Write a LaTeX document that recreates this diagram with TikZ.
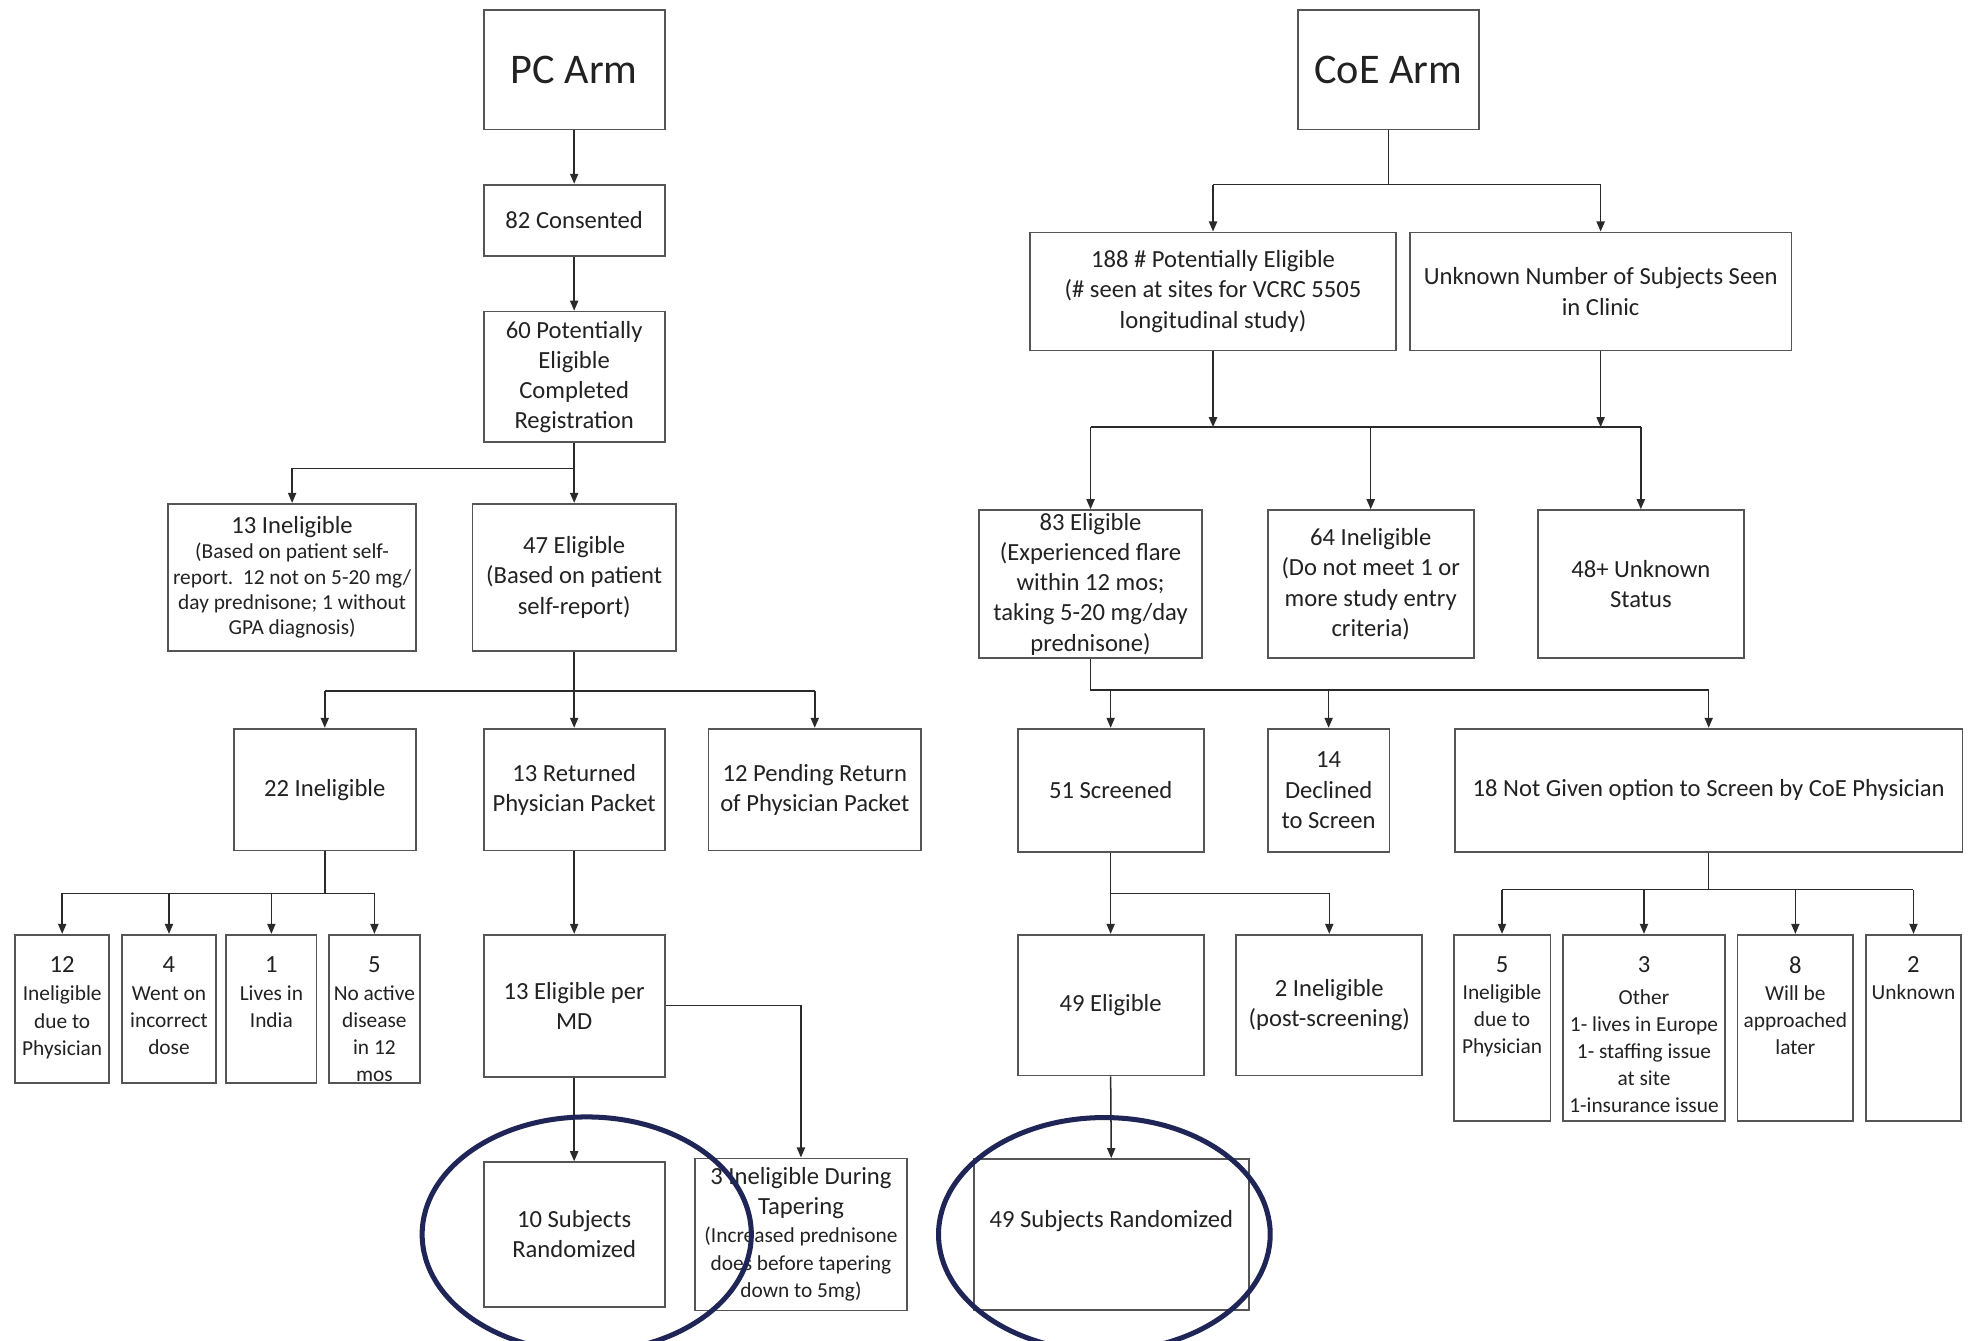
\documentclass[tikz,border=0pt]{standalone}
\usepackage{fontspec}
\setmainfont{Carlito}
\usetikzlibrary{arrows.meta,shapes.geometric}

\definecolor{boxline}{HTML}{555555}
\definecolor{wire}{HTML}{2A2A2A}
\definecolor{ink}{HTML}{222222}
\definecolor{ringblue}{HTML}{1F2556}

\newcommand\fmain{\fontsize{19.6}{24}\selectfont}
\newcommand\fsmall{\fontsize{17}{21.5}\selectfont}
\newcommand\farm{\fontsize{33.6}{40}\selectfont}

\tikzset{
  box/.style={draw=boxline, line width=1.4pt, fill=white, align=center,
    inner sep=2pt, text=ink, font=\fmain},
  note/.style={align=center, inner sep=0pt, text=ink, font=\fsmall},
  ln/.style={draw=wire, line width=1.2pt},
  arr/.style={ln, -{Triangle[length=8pt,width=6.5pt]}},
  ring/.style={draw=ringblue, line width=4pt, ellipse, inner sep=0pt}
}

\begin{document}
\begin{tikzpicture}[x=1pt,y=-1pt]
\useasboundingbox (0,0) rectangle (1568,1067);

% ---------- PC arm ----------
\node[box, minimum width=144pt, minimum height=95pt, font=\farm] (pcarm) at (457,55.5) {PC Arm};
\node[box, minimum width=144pt, minimum height=57pt] (cons) at (457,175.5) {82 Consented};
\node[box, minimum width=144pt, minimum height=104pt] (potel) at (457,300) {60 Potentially\\Eligible\\Completed\\Registration};

\node[box, minimum width=197pt, minimum height=117pt] (inel13) at (232.5,459.5)
  {13 Ineligible\\[-4pt]{\fsmall (Based on patient self-}\\[-4pt]{\fsmall report.\ \ 12 not on 5-20 mg/}\\[-4pt]{\fsmall day prednisone; 1 without}\\[-4pt]{\fsmall GPA diagnosis)}};
\node[box, minimum width=162pt, minimum height=117pt] (el47) at (457,459.5) {47 Eligible\\(Based on patient\\self-report)};

\node[box, minimum width=145pt, minimum height=97pt] (inel22) at (258.5,628.5) {22 Ineligible};
\node[box, minimum width=144pt, minimum height=97pt] (ret13) at (457,628.5) {13 Returned\\Physician Packet};
\node[box, minimum width=169pt, minimum height=97pt] (pend12) at (648.5,628.5) {12 Pending Return\\of Physician Packet};

\node[box, minimum width=75pt, minimum height=118pt] (s12) at (49.5,803) {};
\node[box, minimum width=75pt, minimum height=118pt] (s4) at (134.5,803) {};
\node[box, minimum width=72pt, minimum height=118pt] (s1) at (216,803) {};
\node[box, minimum width=72pt, minimum height=118pt] (s5) at (298,803) {};
\node[note, anchor=north] (s12t) at ([yshift=-18pt]s12.north) {{\fmain 12}\\[1pt]Ineligible\\due to\\Physician};
\node[note, anchor=north] (s4t) at ([yshift=-18pt]s4.north) {{\fmain 4}\\[1pt]Went on\\incorrect\\dose};
\node[note, anchor=north] (s1t) at ([yshift=-18pt]s1.north) {{\fmain 1}\\[1pt]Lives in\\India};
\node[note, anchor=north] (s5t) at ([yshift=-18pt]s5.north) {{\fmain 5}\\[1pt]No active\\disease\\in 12\\mos};

\node[box, minimum width=144pt, minimum height=113pt] (elmd) at (457,800.5) {13 Eligible per\\MD};
\node[box, minimum width=144pt, minimum height=115pt] (rand10) at (457,982.5) {10 Subjects\\Randomized};
\node[box, minimum width=169pt, minimum height=121pt] (taper3) at (637.5,982.5)
  {3 Ineligible During\\Tapering\\[-2pt]{\fsmall (Increased prednisone}\\[-2pt]{\fsmall does before tapering}\\[-2pt]{\fsmall down to 5mg)}};

% ---------- CoE arm ----------
\node[box, minimum width=144pt, minimum height=95pt, font=\farm] (coearm) at (1105,55.5) {CoE Arm};
\node[box, minimum width=291pt, minimum height=94pt] (pot188) at (965.5,232) {188 \# Potentially Eligible\\(\# seen at sites for VCRC 5505\\longitudinal study)};
\node[box, minimum width=304pt, minimum height=94pt] (unk) at (1274,232) {Unknown Number of Subjects Seen\\in Clinic};

\node[box, minimum width=178pt, minimum height=118pt] (el83) at (868,465) {83 Eligible\\(Experienced flare\\within 12 mos;\\taking 5-20 mg/day\\prednisone)};
\node[box, minimum width=164pt, minimum height=118pt] (inel64) at (1091,465) {64 Ineligible\\(Do not meet 1 or\\more study entry\\criteria)};
\node[box, minimum width=164pt, minimum height=118pt] (unk48) at (1306,465) {48+ Unknown\\Status};

\node[box, minimum width=148pt, minimum height=98pt] (scr51) at (884,629) {51 Screened};
\node[box, minimum width=97pt, minimum height=98pt] (dec14) at (1057.5,629) {14\\Declined\\to Screen};
\node[box, minimum width=404pt, minimum height=98pt] (notg18) at (1360,629) {18 Not Given option to Screen by CoE Physician};

\node[box, minimum width=148pt, minimum height=112pt] (el49) at (884,800) {49 Eligible};
\node[box, minimum width=148pt, minimum height=112pt] (inel2) at (1058,800) {2 Ineligible\\(post-screening)};

\node[box, minimum width=77pt, minimum height=148pt] (s5c) at (1195.5,818) {};
\node[box, minimum width=129pt, minimum height=148pt] (s3c) at (1308.5,818) {};
\node[box, minimum width=92pt, minimum height=148pt] (s8c) at (1429,818) {};
\node[box, minimum width=76pt, minimum height=148pt] (s2c) at (1523,818) {};
\node[note, anchor=north] (s5ct) at ([yshift=-18pt]s5c.north) {{\fmain 5}\\[0pt]Ineligible\\due to\\Physician};
\node[note, anchor=north] (s3ct) at ([yshift=-18pt]s3c.north) {{\fmain 3}\\[4pt]Other\\1- lives in Europe\\1- staffing issue\\at site\\1-insurance issue};
\node[note, anchor=north] (s8ct) at ([yshift=-18pt]s8c.north) {{\fmain 8}\\[0pt]Will be\\approached\\later};
\node[note, anchor=north] (s2ct) at ([yshift=-18pt]s2c.north) {{\fmain 2}\\[0pt]Unknown};

\node[box, minimum width=219pt, minimum height=120pt] (rand49) at (884.5,982.5) {49 Subjects Randomized\\\mbox{}};

% ---------- PC arm connectors ----------
% each branch: one stem, one horizontal bar, then a drop into every child
\draw[arr] (pcarm.south) -- (cons.north);
\draw[arr] (cons.south) -- (potel.north);
\coordinate (j1) at (457,373);
\draw[arr] (potel.south) -- (el47.north);
\draw[arr] (j1) -| (inel13.north);

\coordinate (j2) at (457,550);
\draw[arr] (el47.south) -- (ret13.north);
\draw[ln] (j2 -| inel22.north) -- (j2 -| pend12.north);
\draw[arr] (j2 -| inel22.north) -- (inel22.north);
\draw[arr] (j2 -| pend12.north) -- (pend12.north);

\coordinate (j3) at (258.5,711);
\draw[ln] (inel22.south) -- (j3);
\draw[ln] (j3 -| s12.north) -- (j3 -| s5.north);
\draw[arr] (j3 -| s12.north) -- (s12.north);
\draw[arr] (j3 -| s4.north) -- (s4.north);
\draw[arr] (j3 -| s1.north) -- (s1.north);
\draw[arr] (j3 -| s5.north) -- (s5.north);

\draw[arr] (ret13.south) -- (elmd.north);
\draw[arr] (elmd.south) -- (rand10.north);
\draw[arr] (elmd.east) -| (taper3.north);

% ---------- CoE arm connectors ----------
\coordinate (j4) at (1105,147);
\draw[ln] (coearm.south) -- (j4);
\draw[ln] (j4 -| pot188.north) -- (j4 -| unk.north);
\draw[arr] (j4 -| pot188.north) -- (pot188.north);
\draw[arr] (j4 -| unk.north) -- (unk.north);

\coordinate (j7) at (868,340);
\coordinate (j8) at (1091,340);
\coordinate (j9) at (1306,340);
\draw[arr, line width=1.6pt] (pot188.south) -- (pot188.south |- j7);
\draw[arr] (unk.south) -- (unk.south |- j7);
\draw[ln] (j7) -- (j9);
\draw[arr] (j7) -- (el83.north);
\draw[arr] (j8) -- (inel64.north);
\draw[arr] (j9) -- (unk48.north);

\coordinate (j10) at (868,549);
\coordinate (j11) at (1360,549);
\draw[ln] (el83.south) -- (j10) -- (j11);
\draw[arr] (j10 -| scr51.north) -- (scr51.north);
\draw[arr] (j10 -| dec14.north) -- (dec14.north);
\draw[arr] (j11) -- (notg18.north);

\coordinate (j12) at (884,711);
\draw[ln] (scr51.south) -- (j12);
\draw[ln] (j12) -- (j12 -| inel2.north);
\draw[arr] (j12) -- (el49.north);
\draw[arr] (j12 -| inel2.north) -- (inel2.north);

\coordinate (j13) at (1360,708);
\draw[ln] (notg18.south) -- (j13);
\draw[ln] (j13 -| s5c.north) -- (j13 -| s2c.north);
\draw[arr] (j13 -| s5c.north) -- (s5c.north);
\draw[arr] (j13 -| s3c.north) -- (s3c.north);
\draw[arr] (j13 -| s8c.north) -- (s8c.north);
\draw[arr] (j13 -| s2c.north) -- (s2c.north);

\draw[arr] (el49.south) -- (rand49.north);

% ---------- rings around the randomized counts ----------
\node[ring, minimum width=262pt, minimum height=187pt] (ring10) at (467,982.5) {};
\node[ring, minimum width=264pt, minimum height=186pt] (ring49) at (879,982.5) {};
\end{tikzpicture}
\end{document}
